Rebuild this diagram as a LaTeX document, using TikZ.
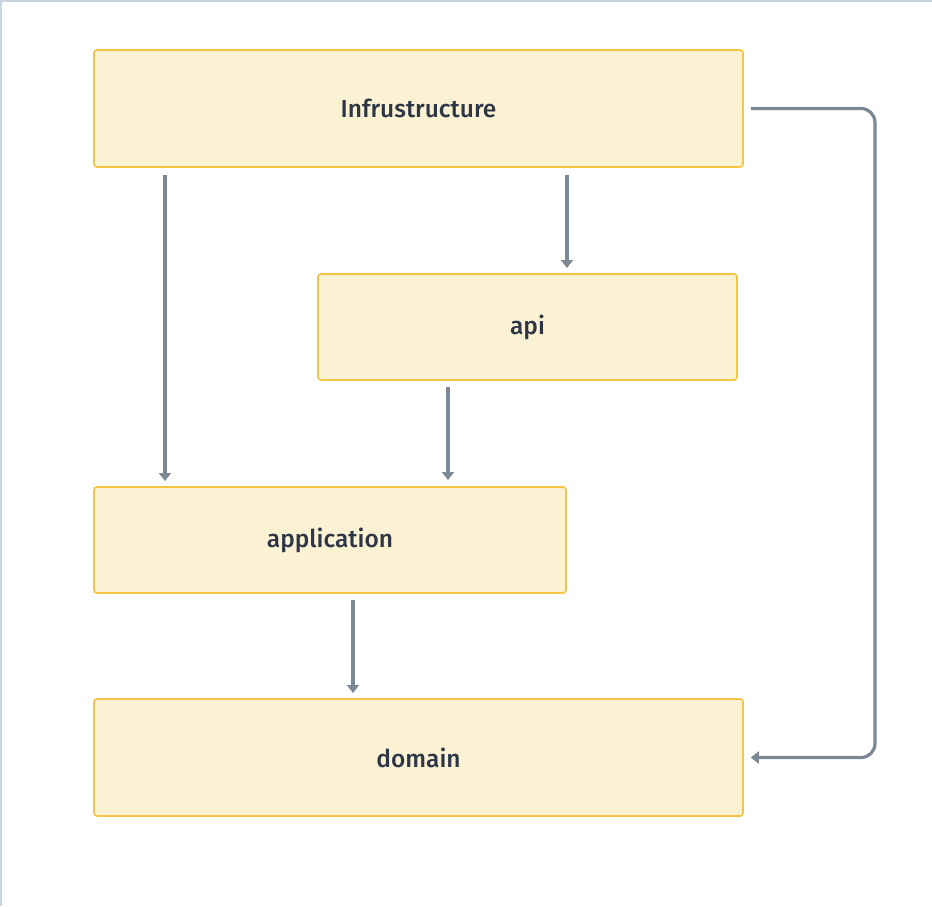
\documentclass[tikz,border=0pt]{standalone}
\usepackage{fontspec}
\setmainfont{Fira Sans}[UprightFont=* Medium]
\usetikzlibrary{arrows.meta}
\definecolor{boxfill}{HTML}{FBF1D3}
\definecolor{boxline}{HTML}{F5C443}
\definecolor{arr}{HTML}{7C8895}
\definecolor{txt}{HTML}{2D3646}
\definecolor{frame}{HTML}{C9D4DF}
\tikzset{
  layer/.style={draw=boxline, fill=boxfill, line width=1.6pt, rounded corners=3pt,
    text=txt, font=\fontsize{24.5}{28}\selectfont, inner sep=0pt},
  conn/.style={draw=arr, line width=3.2pt, -{Triangle[width=12pt,length=8pt]}},
}
\begin{document}
\begin{tikzpicture}[x=1pt,y=-1pt]
\useasboundingbox (0,0) rectangle (932,906);
\fill[white] (0,0) rectangle (932,906);
\draw[frame, line width=2pt] (1,906) -- (1,1) -- (932,1);
\node[layer, minimum width=649pt, minimum height=117pt] (infra) at (418.5,108.5) {Infrustructure};
\node[layer, minimum width=419pt, minimum height=106pt] (api) at (527.5,327) {api};
\node[layer, minimum width=472pt, minimum height=106pt] (app) at (330,540) {application};
\node[layer, minimum width=649pt, minimum height=117pt] (dom) at (418.5,757.5) {domain};
\coordinate (c1s) at (165,175);
\coordinate (c1e) at (165,481);
\draw[conn] (c1s) -- (c1e);
\coordinate (c2s) at (567,175);
\coordinate (c2e) at (567,268);
\draw[conn] (c2s) -- (c2e);
\coordinate (c3s) at (448,387);
\coordinate (c3e) at (448,480);
\draw[conn] (c3s) -- (c3e);
\coordinate (c4s) at (353,600);
\coordinate (c4e) at (353,693);
\draw[conn] (c4s) -- (c4e);
\draw[conn, rounded corners=14pt] ([xshift=7pt]infra.east) -- (875,108.5) -- (875,757.5) -- ([xshift=7pt]dom.east);
\end{tikzpicture}
\end{document}
